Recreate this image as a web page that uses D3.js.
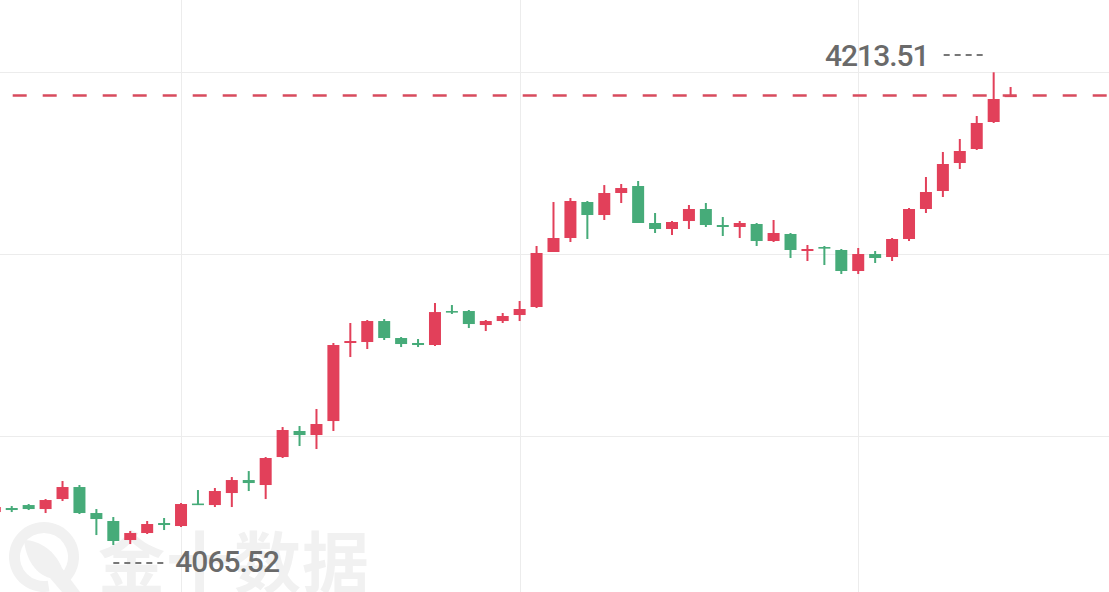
<!DOCTYPE html>
<html>
<head>
<meta charset="utf-8">
<script src="https://cdn.jsdelivr.net/npm/d3@7"></script>
<style>
  html, body { margin: 0; padding: 0; background: #fff; overflow: hidden; }
  svg { display: block; }
</style>
</head>
<body>
<svg id="chart"></svg>
<script>
// 1-minute bars
const times = ["10:29","10:30","10:31","10:32","10:33","10:34","10:35","10:36","10:37","10:38",
  "10:39","10:40","10:41","10:42","10:43","10:44","10:45","10:46","10:47","10:48",
  "10:49","10:50","10:51","10:52","10:53","10:54","10:55","10:56","10:57","10:58",
  "10:59","11:00","11:01","11:02","11:03","11:04","11:05","11:06","11:07","11:08",
  "11:09","11:10","11:11","11:12","11:13","11:14","11:15","11:16","11:17","11:18",
  "11:19","11:20","11:21","11:22","11:23","11:24","11:25","11:26","11:27","11:28","11:29"];
const open = [4075.84,4077.10,4078.03,4076.78,4079.91,4083.67,4075.53,4073.03,4067.08,4069.27,
  4072.40,4071.46,4078.50,4078.03,4081.79,4085.86,4084.30,4093.06,4101.21,4099.95,
  4104.33,4128.76,4129.07,4135.64,4130.32,4128.76,4128.13,4138.77,4138.77,4134.39,
  4135.64,4137.52,4140.03,4157.25,4161.63,4172.90,4168.83,4175.72,4177.91,4166.33,
  4164.45,4166.95,4170.71,4165.70,4165.08,4166.02,4160.69,4162.89,4157.56,4158.81,
  4157.88,4151.30,4156.62,4155.68,4161.32,4170.71,4176.35,4185.11,4189.50,4197.95,4205.94];
const close = [4077.41,4076.47,4076.78,4079.60,4083.67,4075.53,4073.65,4066.77,4069.27,4072.09,
  4071.78,4078.35,4078.30,4082.42,4085.86,4084.92,4092.75,4101.52,4099.95,4103.40,
  4128.13,4129.38,4135.64,4130.32,4128.44,4128.13,4138.45,4138.45,4134.70,4135.64,
  4137.21,4139.40,4156.94,4161.63,4173.22,4168.83,4175.72,4177.28,4166.33,4164.45,
  4166.64,4170.71,4165.70,4165.08,4166.33,4160.69,4163.20,4157.88,4158.19,4158.34,
  4151.30,4156.62,4155.37,4161.32,4170.71,4176.03,4184.80,4188.87,4197.64,4205.15,4206.24];
const high = [4077.72,4077.72,4078.35,4079.91,4085.55,4084.30,4076.78,4074.28,4069.89,4073.03,
  4073.97,4078.66,4082.73,4083.36,4086.80,4088.67,4093.06,4102.45,4102.77,4108.10,
  4128.76,4135.02,4135.96,4136.27,4130.63,4130.01,4141.28,4140.65,4139.09,4135.96,
  4138.15,4141.91,4159.13,4172.90,4174.15,4173.22,4178.21,4178.54,4179.48,4169.46,
  4166.95,4171.96,4172.59,4168.21,4166.95,4166.33,4167.27,4163.20,4159.44,4159.13,
  4158.19,4158.50,4157.56,4161.63,4171.02,4180.73,4188.56,4192.63,4199.83,4213.51,4208.91];
const low = [4075.53,4075.84,4076.47,4075.53,4079.29,4075.22,4068.64,4065.52,4065.82,4068.96,
  4070.21,4071.15,4078.20,4077.41,4077.41,4082.42,4079.91,4092.75,4096.51,4095.57,
  4101.21,4124.37,4126.88,4129.70,4127.50,4127.50,4127.82,4137.84,4133.45,4132.51,
  4135.02,4135.64,4139.71,4157.25,4160.38,4161.32,4167.27,4172.59,4166.33,4163.20,
  4162.57,4164.45,4165.08,4162.26,4161.63,4159.13,4160.38,4155.37,4154.43,4153.18,
  4150.36,4150.36,4153.81,4154.43,4160.69,4169.46,4174.47,4183.24,4189.19,4197.64,4205.94];
const gridPrices = [4099.5, 4156.5, 4213.5];
const gridTimes = ["10:40", "11:00", "11:20"];

const width = 1109, height = 592;
const upColor = "#e2405a", downColor = "#46ab79";

const svg = d3.select("#chart").attr("width", width).attr("height", height);

const bars = times.map((t, i) => ({t: t, o: open[i], c: close[i], h: high[i], l: low[i]}));
const maxBar = bars.reduce((a, b) => (b.h > a.h ? b : a));
const minBar = bars.reduce((a, b) => (b.l < a.l ? b : a));

//scales
const x = d3.scalePoint().domain(times).range([-5.2, 1010.6]);
const y = d3.scaleLinear().domain([minBar.l, maxBar.h]).range([545, 72.3]);

//watermark
const wm = svg.append("g").attr("fill", "#f1f1f1").attr("stroke", "none");
wm.append("path")
  .attr("d", d3.arc().innerRadius(24).outerRadius(35).startAngle(0.95 * Math.PI).endAngle(2.75 * Math.PI)())
  .attr("transform", "translate(44,557)");
wm.append("path")
  .attr("d", "M24,540 C40,540 56,552 62,568 L80,592 L62,592 L50,578 C36,574 26,560 24,540 Z");
wm.append("text")
  .attr("x", 98).attr("y", 558)
  .attr("dominant-baseline", "central")
  .style("font-family", "'Noto Sans CJK SC', sans-serif")
  .style("font-weight", "bold")
  .style("font-size", "67px")
  .style("letter-spacing", "1px")
  .text("金十数据");

//grid
svg.append("g").selectAll("line").data(gridPrices).join("line")
  .attr("x1", 0).attr("x2", width)
  .attr("y1", d => Math.round(y(d)) + 0.5).attr("y2", d => Math.round(y(d)) + 0.5)
  .attr("stroke", "#ececec").attr("stroke-width", 1);
svg.append("g").selectAll("line").data(gridTimes).join("line")
  .attr("x1", d => Math.round(x(d)) + 0.5).attr("x2", d => Math.round(x(d)) + 0.5)
  .attr("y1", 0).attr("y2", height)
  .attr("stroke", "#ececec").attr("stroke-width", 1);

//candles
const bodyW = 12;
const candle = svg.append("g").selectAll("g").data(bars).join("g")
  .attr("fill", d => (d.c >= d.o ? upColor : downColor));
candle.append("rect")
  .attr("x", d => x(d.t) - 1)
  .attr("width", 2)
  .attr("y", d => y(d.h))
  .attr("height", d => Math.max(1, y(d.l) - y(d.h)));
candle.append("rect")
  .attr("x", d => x(d.t) - bodyW / 2)
  .attr("width", bodyW)
  .attr("y", d => y(Math.max(d.o, d.c)))
  .attr("height", d => Math.max(1.6, Math.abs(y(d.o) - y(d.c))));

//last price line
const last = bars[bars.length - 1];
svg.append("line")
  .attr("x1", 0).attr("x2", width)
  .attr("y1", y(last.c)).attr("y2", y(last.c))
  .attr("stroke", "#d84b5d").attr("stroke-width", 2.5)
  .attr("stroke-dasharray", "14,16")
  .attr("stroke-dashoffset", 17.3);

//max / min labels
const labelFont = g => g.style("font-family", "Roboto, sans-serif")
  .style("font-size", "30px").style("font-weight", 500)
  .style("letter-spacing", "-1px").attr("fill", "#6a6a6a");
const dash = "#777";

const maxX = x(maxBar.t);
svg.append("line")
  .attr("x1", maxX - 50).attr("x2", maxX - 8)
  .attr("y1", 55).attr("y2", 55)
  .attr("stroke", dash).attr("stroke-width", 2).attr("stroke-dasharray", "6,5");
svg.append("text")
  .attr("x", maxX - 65).attr("y", 66)
  .attr("text-anchor", "end")
  .call(labelFont)
  .text(maxBar.h.toFixed(2));

const minX = x(minBar.t);
svg.append("line")
  .attr("x1", minX).attr("x2", minX + 51)
  .attr("y1", 563).attr("y2", 563)
  .attr("stroke", dash).attr("stroke-width", 2).attr("stroke-dasharray", "6,5");
svg.append("text")
  .attr("x", minX + 62).attr("y", 572)
  .call(labelFont)
  .text(minBar.l.toFixed(2));
</script>
</body>
</html>
